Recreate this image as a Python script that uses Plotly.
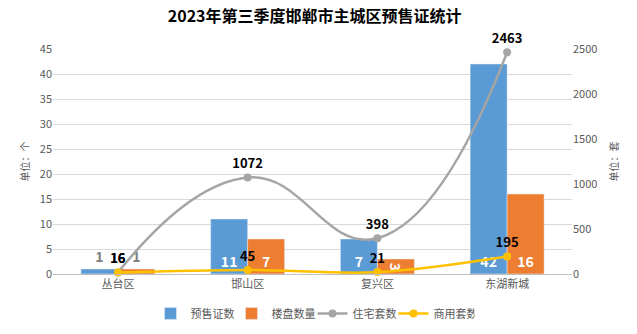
import plotly.graph_objects as go

# 2023 Q3 pre-sale permit statistics, Handan main urban districts
districts = ["丛台区", "邯山区", "复兴区", "东湖新城"]
permits = [1, 11, 7, 42]             # 预售证数
projects = [1, 7, 3, 16]             # 楼盘数量
residential = [16, 1072, 398, 2463]  # 住宅套数
commercial = [16, 45, 21, 195]       # 商用套数

FONT = "Noto Sans CJK SC, Microsoft YaHei, sans-serif"
BLUE, ORANGE, GRAY, YELLOW = "#5B9BD5", "#ED7D31", "#A5A5A5", "#FFC000"


def bar_text_style(values):
    # tiny bars get their label above the bar in grey, others inside in white
    pos = ["outside" if v < 2 else "inside" for v in values]
    col = ["#808080" if v < 2 else "white" for v in values]
    return pos, col


fig = go.Figure()

pos, col = bar_text_style(permits)
fig.add_trace(go.Bar(
    x=districts, y=permits, name="预售证数", marker_color=BLUE,
    text=[f"<b>{v}</b>" for v in permits], textposition=pos,
    insidetextanchor="start", textfont=dict(color=col, size=14, family=FONT),
    cliponaxis=False,
))
pos, col = bar_text_style(projects)
fig.add_trace(go.Bar(
    x=districts, y=projects, name="楼盘数量", marker_color=ORANGE,
    text=[f"<b>{v}</b>" for v in projects], textposition=pos,
    insidetextanchor="start", textfont=dict(color=col, size=14, family=FONT),
    cliponaxis=False,
))
fig.add_trace(go.Scatter(
    x=districts, y=residential, name="住宅套数", yaxis="y2",
    mode="lines+markers+text",
    line=dict(color=GRAY, width=2.5, shape="spline", smoothing=1.3),
    marker=dict(color=GRAY, size=8),
    text=[f"<b>{v}</b>" for v in residential], textposition="top center",
    textfont=dict(color="black", size=13, family=FONT), cliponaxis=False,
))
fig.add_trace(go.Scatter(
    x=districts, y=commercial, name="商用套数", yaxis="y2",
    mode="lines+markers+text",
    line=dict(color=YELLOW, width=2.5, shape="spline", smoothing=1),
    marker=dict(color=YELLOW, size=8),
    text=[f"<b>{v}</b>" for v in commercial], textposition="top center",
    textfont=dict(color="black", size=13, family=FONT), cliponaxis=False,
))

fig.update_layout(
    width=637, height=334,
    margin=dict(l=53, r=65, t=49, b=60, autoexpand=False),
    paper_bgcolor="white", plot_bgcolor="white",
    font=dict(family=FONT, size=11, color="#595959"),
    title=dict(text="<b>2023年第三季度邯郸市主城区预售证统计</b>", x=0.494, xanchor="center",
               y=0.95, yanchor="middle", font=dict(size=16, color="black", family=FONT)),
    barmode="group", bargap=0.43, bargroupgap=0,
    xaxis=dict(showline=True, linecolor="#BFBFBF", linewidth=1, ticks="",
               tickfont=dict(size=11, color="#595959")),
    yaxis=dict(range=[0, 45], dtick=5, showgrid=True, gridcolor="#D9D9D9", zeroline=False,
               tickfont=dict(size=11, color="#595959"),
               title=dict(text="单位：个", font=dict(size=10, color="#595959"), standoff=8)),
    yaxis2=dict(range=[0, 2500], dtick=500, overlaying="y", side="right", showgrid=False,
                zeroline=False, tickfont=dict(size=11, color="#595959"),
                title=dict(text="单位：套", font=dict(size=10, color="#595959"), standoff=14)),
    legend=dict(orientation="h", x=0.5, xanchor="center", y=-0.175, yanchor="middle",
                font=dict(size=11, color="#595959"), itemwidth=30, entrywidth=36,
                tracegroupgap=0),
    uniformtext=dict(minsize=12, mode="show"),
)

fig.write_html("out.html")
